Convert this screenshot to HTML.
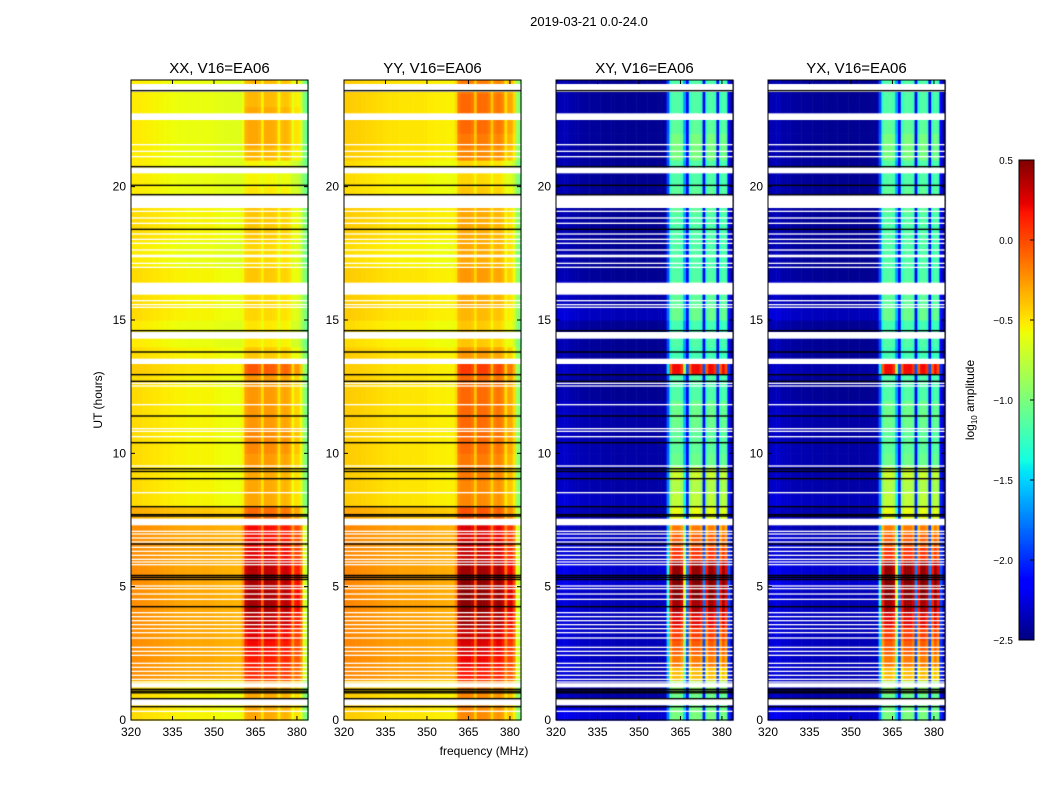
<!DOCTYPE html>
<html><head><meta charset="utf-8"><style>
body{margin:0;background:#fff;width:1050px;height:800px;overflow:hidden;font-family:"Liberation Sans",sans-serif}
#wrap{position:relative;width:1050px;height:800px}
canvas{position:absolute;left:0;top:0}
svg{position:absolute;left:0;top:0}
</style></head><body>
<div id="wrap">
<canvas id="cv" width="1050" height="800"></canvas>
<svg id="ov" width="1050" height="800"></svg>
</div>
<script>
// ---- data ----
const panelTitles = ["XX, V16=EA06","YY, V16=EA06","XY, V16=EA06","YX, V16=EA06"];
const freqTicks = [320,335,350,365,380];
const timeTicks = [0,5,10,15,20];
const cbTicks = [0.5,0.0,-0.5,-1.0,-1.5,-2.0,-2.5];
// per 1 MHz bin offsets (320..383)
const baseFreqPar = [0.08,0.08,0.08,0.08,0.07,0.07,0.06,0.06,0.05,0.05,0.04,0.04,0.03,0.03,0.02,0.02,0.01,0.01,0.01,0.01,0,0,0,0,0,0,0,0,0,0,-0.02,-0.02,-0.02,-0.03,-0.03,-0.03,-0.03,-0.04,-0.04,-0.04,-0.05,-0.05,-0.05,-0.05,-0.05,-0.05,-0.05,-0.06,-0.06,-0.06,-0.06,-0.07,-0.07,-0.08,-0.08,-0.09,-0.1,-0.12,-0.15,-0.2,-0.25,-0.32,-0.4,-0.48];
const maskPar = [0,0,0,0,0,0,0,0,0,0,0,0,0,0,0,0,0,0,0,0,0,0,0,0,0,0,0,0,0,0,0,0,0,0,0,0,0,0,0,0,0.2,0.9,1,1,1,1,0.9,0.4,1,1,1,1,0.9,0.4,0.9,1,1,0.9,0.4,0.9,1,0.8,0.1,0];
const baseFreqCross = [0.08,0.08,0.1,0.1,0.08,0.06,0.06,0.05,0.04,0.04,0.03,0.03,0.02,0.02,0.02,0.02,0.01,0.01,0.01,0.01,0,0,0,0,0,0,0,0,0,0,0,0,0,0,0,0,0,0,0,0.05,0.15,0,0,0,0,0,0,0,0,0,0,0,0,0,0,0,0,0,0,0,0,0.05,0.15,0.05];
const maskCross = [0,0,0,0,0,0,0,0,0,0,0,0,0,0,0,0,0,0,0,0,0,0,0,0,0,0,0,0,0,0,0,0,0,0,0,0,0,0,0,0,0.3,0.9,1,1,1,0.95,0.6,0.2,0.9,1,1,1,0.95,0.2,0.9,1,1,0.95,0.2,0.9,1,0.9,0.1,0];
// per half-hour (0..24h) levels
const baseTimeXX = [-0.55,-0.55,-0.55,-0.3,-0.3,-0.3,-0.3,-0.3,-0.3,-0.3,-0.3,-0.3,-0.3,-0.3,-0.3,-0.4,-0.55,-0.55,-0.55,-0.55,-0.55,-0.55,-0.55,-0.55,-0.55,-0.55,-0.5,-0.55,-0.6,-0.6,-0.55,-0.55,-0.55,-0.55,-0.6,-0.6,-0.55,-0.55,-0.55,-0.6,-0.6,-0.6,-0.6,-0.6,-0.6,-0.6,-0.6,-0.6];
const rfiTimeXX = [0.3,0.3,0.35,0.45,0.5,0.55,0.6,0.7,0.75,0.75,0.75,0.7,0.6,0.55,0.55,0.35,0.3,0.3,0.3,0.35,0.4,0.4,0.35,0.35,0.35,0.35,0.5,0.2,0.15,0.15,0.15,0.15,0.2,0.2,0.2,0.2,0.2,0.2,0.2,0.15,0.1,0.1,0.3,0.35,0.35,0.35,0.3,0.3];
const baseTimeYY = [-0.5,-0.5,-0.5,-0.28,-0.28,-0.28,-0.28,-0.28,-0.28,-0.28,-0.28,-0.28,-0.28,-0.28,-0.28,-0.38,-0.5,-0.5,-0.5,-0.5,-0.5,-0.5,-0.5,-0.5,-0.5,-0.5,-0.5,-0.5,-0.55,-0.55,-0.5,-0.5,-0.5,-0.5,-0.55,-0.55,-0.5,-0.5,-0.5,-0.55,-0.55,-0.55,-0.5,-0.5,-0.5,-0.5,-0.5,-0.5];
const rfiTimeYY = [0.35,0.35,0.4,0.5,0.55,0.6,0.65,0.75,0.8,0.8,0.8,0.75,0.65,0.6,0.6,0.4,0.35,0.35,0.4,0.4,0.45,0.45,0.45,0.45,0.45,0.45,0.6,0.3,0.2,0.2,0.2,0.25,0.3,0.3,0.3,0.3,0.25,0.25,0.25,0.2,0.15,0.15,0.35,0.4,0.45,0.45,0.45,0.4];
const baseTimeXY = [-2.3,-2.4,-2.4,-2.35,-2.35,-2.35,-2.35,-2.35,-2.35,-2.35,-2.3,-2.3,-2.35,-2.35,-2.4,-2.4,-2.35,-2.4,-2.4,-2.4,-2.4,-2.4,-2.4,-2.4,-2.45,-2.45,-2.4,-2.45,-2.45,-2.45,-2.35,-2.4,-2.4,-2.45,-2.45,-2.45,-2.45,-2.45,-2.45,-2.45,-2.45,-2.45,-2.45,-2.45,-2.45,-2.45,-2.45,-2.45];
const rfiTimeXY = [1.3,1.35,1.5,2.0,2.2,2.3,2.4,2.6,2.75,2.85,2.85,2.75,2.45,2.3,2.25,1.8,1.6,1.6,1.7,1.35,1.3,1.3,1.35,1.35,1.3,1.3,2.6,1.25,1.3,1.25,1.3,1.3,1.3,1.3,1.3,1.3,1.3,1.3,1.35,1.35,1.3,1.3,1.45,1.45,1.35,1.3,1.3,1.3];
const baseTimeYX = [-2.3,-2.4,-2.4,-2.35,-2.35,-2.35,-2.35,-2.35,-2.35,-2.35,-2.3,-2.3,-2.35,-2.35,-2.4,-2.4,-2.35,-2.4,-2.4,-2.4,-2.4,-2.4,-2.4,-2.4,-2.45,-2.45,-2.4,-2.45,-2.45,-2.45,-2.35,-2.4,-2.4,-2.45,-2.45,-2.45,-2.45,-2.45,-2.45,-2.45,-2.45,-2.45,-2.45,-2.45,-2.45,-2.45,-2.45,-2.45];
const rfiTimeYX = [1.3,1.35,1.5,2.0,2.2,2.3,2.4,2.6,2.75,2.85,2.85,2.75,2.45,2.3,2.25,1.8,1.6,1.6,1.7,1.35,1.3,1.3,1.35,1.35,1.3,1.3,2.6,1.25,1.3,1.25,1.3,1.3,1.3,1.3,1.3,1.3,1.3,1.3,1.35,1.35,1.3,1.3,1.45,1.45,1.35,1.3,1.3,1.3];
// flagged (white) intervals, hours
const flaggedStart = [23.55,22.5,21.55,21.3,21.1,20.5,19.2,19.05,18.8,18.6,18.2,18.0,17.85,17.6,17.35,17.1,16.95,15.95,15.7,15.55,15.45,14.3,13.35,12.6,12.5,11.8,10.9,10.8,10.6,9.5,8.5,7.3,7.05,6.95,6.8,6.65,6.45,6.3,6.15,6.0,5.9,5.8,5.0,4.9,4.7,4.5,4.0,3.85,3.7,3.55,3.4,3.25,3.05,2.7,2.55,2.4,2.1,1.95,1.8,1.65,1.5,1.4,1.22,0.55,0.3];
const flaggedEnd   = [23.85,22.75,21.6,21.35,21.15,20.72,19.68,19.1,18.85,18.65,18.25,18.05,17.9,17.65,17.45,17.15,17.0,16.4,15.75,15.6,15.5,14.55,13.55,12.65,12.55,11.85,10.95,10.85,10.65,9.55,8.55,7.55,7.1,7.0,6.85,6.7,6.5,6.35,6.2,6.05,5.95,5.85,5.05,4.95,4.75,4.55,4.05,3.9,3.75,3.6,3.45,3.3,3.1,2.75,2.6,2.45,2.15,2.0,1.85,1.7,1.55,1.45,1.38,0.8,0.35];
const blackLines = [23.6,20.75,20.05,19.7,18.4,14.6,13.8,12.95,12.7,11.4,10.4,9.42,9.32,9.05,8.0,7.7,7.65,6.6,5.42,5.35,5.27,4.25,1.15,1.08,1.02,0.8,0.5];

// ---- layout ----
const panelX = [131,344,556,768], PW=177, PT=80, PB=720;
const fMin=320,fMax=384,tMin=0,tMax=24;
const xs=(i,f)=>panelX[i]+(f-fMin)/(fMax-fMin)*PW;
const ys=t=>PB-(t-tMin)/(tMax-tMin)*(PB-PT);
const vmin=-2.5,vmax=0.5;
function seg(x,pts){if(x<=pts[0][0])return pts[0][1];for(let k=1;k<pts.length;k++){if(x<=pts[k][0]){const [x0,y0]=pts[k-1],[x1,y1]=pts[k];return y0+(y1-y0)*(x-x0)/(x1-x0);}}return pts[pts.length-1][1];}
function jet(v){let x=(v-vmin)/(vmax-vmin);x=Math.max(0,Math.min(1,x));
 const r=seg(x,[[0,0],[0.35,0],[0.66,1],[0.89,1],[1,0.5]]);
 const g=seg(x,[[0,0],[0.125,0],[0.375,1],[0.64,1],[0.91,0],[1,0]]);
 const b=seg(x,[[0,0.5],[0.11,1],[0.34,1],[0.65,0],[1,0]]);
 return `rgb(${Math.round(r*255)},${Math.round(g*255)},${Math.round(b*255)})`;}
const panels=[[baseFreqPar,maskPar,baseTimeXX,rfiTimeXX],[baseFreqPar,maskPar,baseTimeYY,rfiTimeYY],[baseFreqCross,maskCross,baseTimeXY,rfiTimeXY],[baseFreqCross,maskCross,baseTimeYX,rfiTimeYX]];
const ctx=document.getElementById('cv').getContext('2d');
panels.forEach((p,pi)=>{
 const [bf,mk,bt,rt]=p;
 for(let j=0;j<bt.length;j++){
  const t0=j*0.5,t1=t0+0.5;
  for(let i=0;i<bf.length;i++){
   const v=bf[i]+bt[j]+mk[i]*rt[j];
   ctx.fillStyle=jet(v);
   const x0=xs(pi,fMin+i),x1=xs(pi,fMin+i+1);
   ctx.fillRect(x0,ys(t1),x1-x0+0.6,ys(t0)-ys(t1)+0.6);
  }
 }
 ctx.fillStyle='#fff';
 flaggedStart.forEach((s,k)=>{ctx.fillRect(panelX[pi],ys(flaggedEnd[k]),PW,ys(s)-ys(flaggedEnd[k]));});
 ctx.fillStyle='#000';
 blackLines.forEach(b=>{ctx.fillRect(panelX[pi],ys(b)-0.7,PW,1.4);});
});
// colorbar
const CB={x:1019,y:160,w:15,h:480};
for(let k=0;k<CB.h;k++){ctx.fillStyle=jet(vmax-(k+0.5)/CB.h*(vmax-vmin));ctx.fillRect(CB.x,CB.y+k,CB.w,1);}

// ---- overlay ----
const svg=document.getElementById('ov');const NS='http://www.w3.org/2000/svg';
function mk_(tag,attrs,txt){const e=document.createElementNS(NS,tag);for(const k in attrs)e.setAttribute(k,attrs[k]);if(txt!==undefined)e.textContent=txt;svg.appendChild(e);return e;}
let e;
e=mk_('text',{x:589,y:26,'font-size':13,'text-anchor':'middle'},'2019-03-21 0.0-24.0');


e=mk_('text',{x:484,y:755,'font-size':12,'text-anchor':'middle'},'frequency (MHz)');


e=mk_('text',{x:102,y:400,'font-size':12,'text-anchor':'middle',transform:'rotate(-90 102 400)'},'UT (hours)');


panelX.forEach((px,pi)=>{
 e=mk_('rect',{x:px,y:PT,width:PW,height:PB-PT,fill:'none',stroke:'#000','stroke-width':1});
 
 
 e=mk_('text',{x:px+PW/2,y:73,'font-size':15,'text-anchor':'middle'},panelTitles[pi]);
 
 
 freqTicks.forEach(f=>{const x=xs(pi,f);
  mk_('line',{x1:x,x2:x,y1:PB,y2:PB-4,stroke:'#000'});
  mk_('line',{x1:x,x2:x,y1:PT,y2:PT+4,stroke:'#000'});
  e=mk_('text',{x:x,y:PB+16,'font-size':12,'text-anchor':'middle'},String(f));
  
  
 });
 timeTicks.forEach(t=>{const y=ys(t);
  mk_('line',{x1:px,x2:px+4,y1:y,y2:y,stroke:'#000'});
  mk_('line',{x1:px+PW,x2:px+PW-4,y1:y,y2:y,stroke:'#000'});
  e=mk_('text',{x:px-5,y:y+4,'font-size':12,'text-anchor':'end'},String(t));
  
  
 });
});
e=mk_('rect',{x:CB.x,y:CB.y,width:CB.w,height:CB.h,fill:'none',stroke:'#000'});


cbTicks.forEach(v=>{const y=CB.y+(vmax-v)/(vmax-vmin)*CB.h;
 mk_('line',{x1:CB.x+CB.w-4,x2:CB.x+CB.w,y1:y,y2:y,stroke:'#000'});
 e=mk_('text',{x:CB.x-6,y:y+4,'font-size':10,'text-anchor':'end'},v.toFixed(1).replace('-','\u2212'));
 
 
});
e=mk_('text',{x:974,y:400,'font-size':12,'text-anchor':'middle',transform:'rotate(-90 974 400)'});
e.innerHTML='log<tspan font-size="8" dy="3">10</tspan><tspan dy="-3"> amplitude</tspan>';


</script>
</body></html>
